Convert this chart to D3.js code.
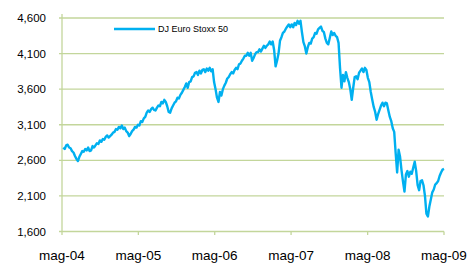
<!DOCTYPE html>
<html>
<head>
<meta charset="utf-8">
<script src="https://cdn.jsdelivr.net/npm/d3@7"></script>
<style>
  html, body { margin: 0; padding: 0; background: #fff; }
  svg { display: block; }
</style>
</head>
<body>
<div id="chart"></div>
<script>
// Weekly closes, DJ Euro Stoxx 50, first Friday 2004-05-07
const closes2004 = [2780, 2760, 2810, 2820, 2780, 2770, 2730, 2710, 2660, 2620, 2590, 2650, 2690,
  2730, 2720, 2760, 2740, 2780, 2730, 2740, 2800, 2780, 2810, 2840, 2830, 2880,
  2860, 2900, 2890, 2930, 2950, 2920, 2940, 2960, 2990];
const closes2005 = [3000, 3040, 3030, 3070, 3050, 3090, 3040, 3060, 3010, 2990, 2940, 2970,
  3010, 3030, 3070, 3060, 3100, 3090, 3150, 3140, 3190, 3210, 3270, 3300, 3280,
  3320, 3340, 3310, 3300, 3340, 3370, 3360, 3420, 3400, 3450, 3420, 3360, 3280, 3270,
  3330, 3370, 3410, 3430, 3480, 3470, 3520, 3550, 3590, 3630, 3680, 3620, 3700];
const closes2006 = [3710, 3770, 3780, 3830, 3840, 3800, 3860, 3820, 3870, 3880, 3840, 3890, 3860,
  3900, 3850, 3880, 3700, 3600, 3480, 3420, 3560, 3510, 3600, 3650, 3690, 3750,
  3770, 3810, 3840, 3820, 3870, 3900, 3880, 3950, 3960, 4000, 4030, 4070, 4070,
  4110, 4070, 4110, 4000, 4040, 4090, 4120, 4120, 4160, 4130, 4170, 4210, 4180];
const closes2007 = [4210, 4230, 4270, 4230, 4270, 4150, 3920, 4000, 4100, 4280, 4330, 4390, 4410,
  4450, 4480, 4510, 4470, 4510, 4470, 4530, 4500, 4560, 4520, 4560, 4400, 4260,
  4200, 4100, 4190, 4250, 4240, 4310, 4330, 4390, 4380, 4440, 4460, 4480, 4420,
  4400, 4310, 4250, 4230, 4320, 4410, 4360, 4390, 4350, 4330, 4250, 3900, 3620];
const closes2008 = [3800, 3710, 3840, 3760, 3700, 3600, 3450, 3620, 3770, 3780, 3740, 3830, 3860,
  3890, 3840, 3900, 3870, 3760, 3700, 3560, 3450, 3350, 3280, 3170, 3250, 3310,
  3370, 3410, 3360, 3410, 3400, 3300, 3210, 3150, 3050, 3000, 2700, 2430, 2750,
  2650, 2460, 2300, 2160, 2400, 2450, 2370, 2440, 2410, 2500, 2580, 2450, 2250];
const closes2009 = [2180, 2310, 2320, 2250, 2100, 1850, 1810, 1950, 2050,
  2150, 2190, 2260, 2280, 2310, 2380, 2430, 2470, 2480];

const seriesName = 'DJ Euro Stoxx 50';
const yTicks = [1600, 2100, 2600, 3100, 3600, 4100, 4600];
const xTickDates = ['2004-05-01', '2005-05-01', '2006-05-01', '2007-05-01', '2008-05-01', '2009-05-01'];
const xTickLabels = ['mag-04', 'mag-05', 'mag-06', 'mag-07', 'mag-08', 'mag-09'];
const firstWeek = '2004-05-07';

const width = 469, height = 264;
const margin = {top: 18, right: 25, bottom: 32.5, left: 62};

const parse = d3.timeParse('%Y-%m-%d');
const start = parse(firstWeek);
const closes = [].concat(closes2004, closes2005, closes2006, closes2007, closes2008, closes2009);
const data = closes.map((v, i) => ({date: d3.timeDay.offset(start, i * 7), value: v}));

const svg = d3.select('#chart').append('svg')
  .attr('width', width)
  .attr('height', height);

const x = d3.scaleTime()
  .domain([parse(xTickDates[0]), parse(xTickDates[xTickDates.length - 1])])
  .range([margin.left, width - margin.right]);

const y = d3.scaleLinear()
  .domain([1600, 4600])
  .range([height - margin.bottom, margin.top]);

const gridColor = '#c3d69b';

// horizontal gridlines
svg.append('g')
  .selectAll('line')
  .data(yTicks)
  .enter()
  .append('line')
  .attr('x1', margin.left - 3)
  .attr('x2', width - margin.right)
  .attr('y1', d => y(d))
  .attr('y2', d => y(d))
  .attr('stroke', gridColor)
  .attr('stroke-width', 1.3);

// left axis line
svg.append('line')
  .attr('x1', margin.left)
  .attr('x2', margin.left)
  .attr('y1', y(4600) - 4)
  .attr('y2', y(1600))
  .attr('stroke', gridColor)
  .attr('stroke-width', 1.3);

// y labels
svg.append('g')
  .selectAll('text')
  .data(yTicks)
  .enter()
  .append('text')
  .attr('x', 46)
  .attr('y', d => y(d))
  .attr('dy', '0.35em')
  .attr('text-anchor', 'end')
  .style('font-family', '"Liberation Sans", Arial, sans-serif')
  .style('font-size', '11.5px')
  .style('fill', '#000')
  .text(d3.format(','));

// x ticks + labels
const xg = svg.append('g');
xg.selectAll('line')
  .data(xTickDates)
  .enter()
  .append('line')
  .attr('x1', d => x(parse(d)))
  .attr('x2', d => x(parse(d)))
  .attr('y1', y(1600))
  .attr('y2', y(1600) + 3.5)
  .attr('stroke', gridColor)
  .attr('stroke-width', 1.3);

xg.selectAll('text')
  .data(xTickDates)
  .enter()
  .append('text')
  .attr('x', d => x(parse(d)))
  .attr('y', 259.5)
  .attr('text-anchor', 'middle')
  .style('font-family', '"Liberation Sans", Arial, sans-serif')
  .style('font-size', '13.5px')
  .style('fill', '#000')
  .text((d, i) => xTickLabels[i]);

// the index line
const line = d3.line()
  .x(d => x(d.date))
  .y(d => y(d.value));

svg.append('path')
  .datum(data)
  .attr('fill', 'none')
  .attr('stroke', '#00b0f0')
  .attr('stroke-width', 2.4)
  .attr('stroke-linejoin', 'round')
  .attr('d', line);

// legend
const legend = svg.append('g');
legend.append('line')
  .attr('x1', 114)
  .attr('x2', 155)
  .attr('y1', 29)
  .attr('y2', 29)
  .attr('stroke', '#00b0f0')
  .attr('stroke-width', 2.5);

legend.append('text')
  .attr('x', 158)
  .attr('y', 29)
  .attr('dy', '0.35em')
  .style('font-family', '"Liberation Sans", Arial, sans-serif')
  .style('font-size', '9px')
  .style('fill', '#000')
  .text(seriesName);
</script>
</body>
</html>
